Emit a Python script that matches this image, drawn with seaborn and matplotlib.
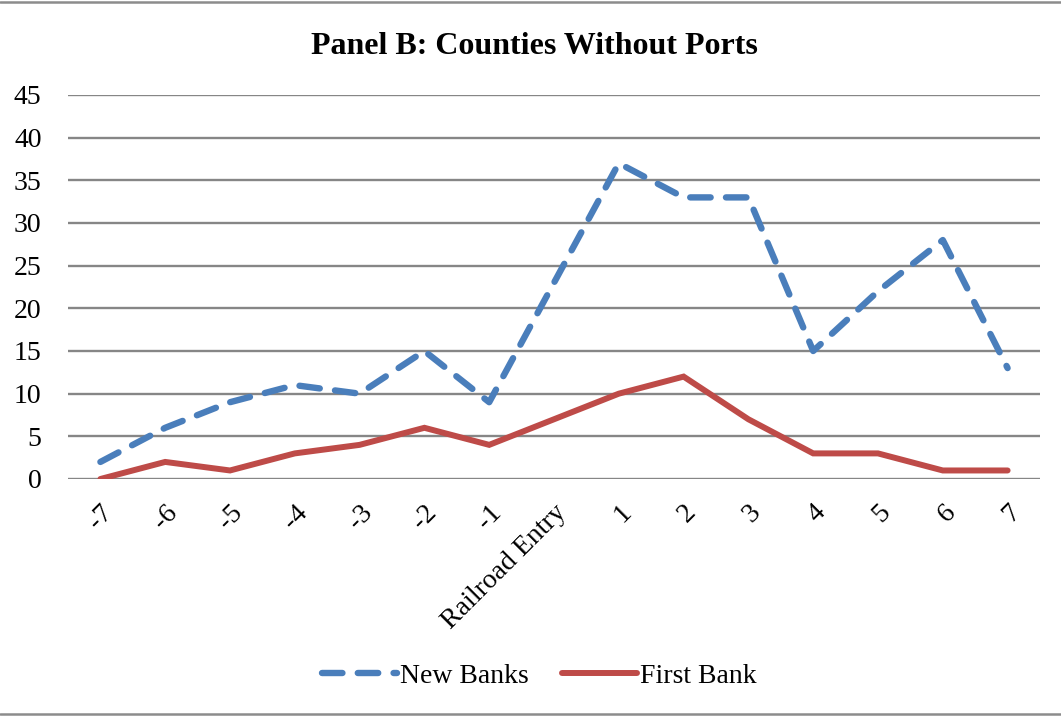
import matplotlib
matplotlib.use("Agg")
import matplotlib.pyplot as plt
import seaborn as sns
import pandas as pd
from matplotlib.lines import Line2D

# Event-time categories around railroad entry
categories = ["-7", "-6", "-5", "-4", "-3", "-2", "-1", "Railroad Entry",
              "1", "2", "3", "4", "5", "6", "7"]
new_banks = [2, 6, 9, 11, 10, 15, 9, 23, 37, 33, 33, 15, 22, 28, 13]
first_bank = [0, 2, 1, 3, 4, 6, 4, 7, 10, 12, 7, 3, 3, 1, 1]
y_ticks = [0, 5, 10, 15, 20, 25, 30, 35, 40, 45]

sns.set_theme(style="white")
plt.rcParams["font.family"] = ["Liberation Serif", "DejaVu Serif"]
plt.rcParams["text.color"] = "black"

df = pd.DataFrame({
    "pos": list(range(len(categories))) * 2,
    "value": new_banks + first_bank,
    "series": ["New Banks"] * len(categories) + ["First Bank"] * len(categories),
})

W, H = 1061, 719
fig = plt.figure(figsize=(W / 100, H / 100), dpi=100)
ax = fig.add_axes([68 / W, 1 - 479 / H, (1040 - 68) / W, (479 - 95) / H])

palette = {"New Banks": "#4A7EBB", "First Bank": "#BE4B48"}
sns.lineplot(data=df[df.series == "New Banks"], x="pos", y="value", ax=ax,
             color=palette["New Banks"], linewidth=4.6, label="New Banks")
sns.lineplot(data=df[df.series == "First Bank"], x="pos", y="value", ax=ax,
             color=palette["First Bank"], linewidth=4.3, label="First Bank")

nb_line, fb_line = ax.get_lines()[:2]
nb_line.set_dashes((3.2, 2.4))
nb_line.set_dash_capstyle("round")
nb_line.set_solid_capstyle("round")
fb_line.set_solid_capstyle("round")
fb_line.set_solid_joinstyle("miter")

ax.set_xlim(-0.5, len(categories) - 0.5)
ax.set_ylim(0, 45)
ax.set_yticks(y_ticks)
ax.set_yticklabels([str(t) for t in y_ticks], fontsize=20)
ax.set_xticks(range(len(categories)))
ax.set_xticklabels(categories, rotation=45, ha="right", va="top",
                   rotation_mode="anchor", fontsize=20)
ax.tick_params(axis="both", length=0, colors="black")
ax.tick_params(axis="y", pad=19)
ax.tick_params(axis="x", pad=15)
ax.set_xlabel("")
ax.set_ylabel("")

ax.yaxis.grid(True, color="#868686", linewidth=1.7)
ax.set_axisbelow(True)
for side in ["top", "right", "left", "bottom"]:
    ax.spines[side].set_visible(False)

fig.text(0.5 + 4 / W, 1 - 46 / H, "Panel B: Counties Without Ports", fontsize=23,
         fontweight="bold", ha="center", va="center", color="black")

ax.legend(loc="center", bbox_to_anchor=(0.5 - 15 / 972, 1 - (676 - 95) / (479 - 95)),
          ncol=2, frameon=False, fontsize=20, handlelength=2.7, handletextpad=0.1,
          columnspacing=1.2, labelcolor="black")

# Chart frame rules (top and bottom)
for yy in (2, 714):
    fig.add_artist(Line2D([0, 1], [1 - yy / H, 1 - yy / H], transform=fig.transFigure,
                          color="#8c8c8c", linewidth=1.8))

fig.savefig("out.png", dpi=100)
